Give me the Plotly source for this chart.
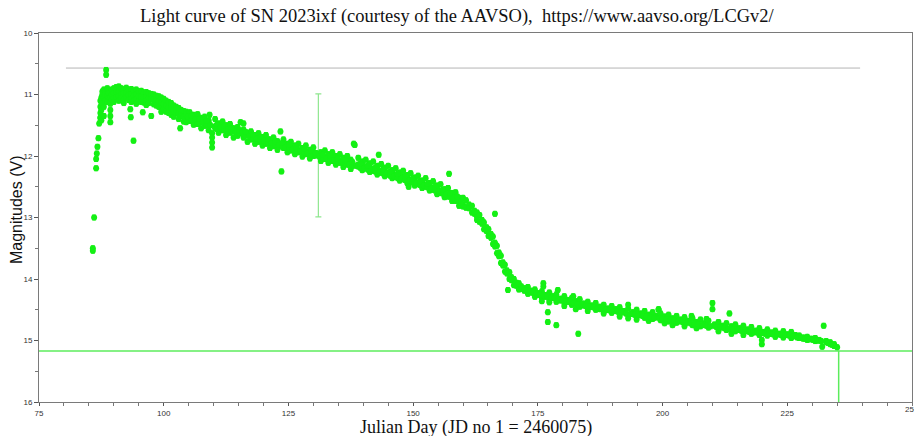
import plotly.graph_objects as go

# ---- V-band observations of SN 2023ixf (day = JD - 2460075 + 1) ----
rise_day = [85.79, 85.79, 86.05, 86.45, 86.45, 86.59, 86.71, 86.91, 87.06, 87.26,
            87.60, 87.92, 88.46, 88.46]
rise_mag = [13.50, 13.54, 13.00, 12.20, 12.05, 11.96, 11.85, 11.71, 11.47, 11.38,
            11.14, 10.98, 10.60, 10.68]

peak_day = [87.3, 87.3, 87.3, 87.5, 87.5, 87.5, 87.7, 87.7, 87.7,
            88.0, 88.0, 88.0, 88.0, 88.3, 88.3, 88.3,
            88.7, 88.7, 88.7, 89.0, 89.0, 89.0,
            89.3, 89.3, 89.3, 89.3, 89.3, 89.6, 89.6, 89.6,
            90.0, 90.0, 90.0, 90.0, 90.5, 90.5, 90.5,
            91.0, 91.0, 91.0, 91.0, 91.5, 91.5, 91.5,
            92.0, 92.0, 92.0, 92.0, 92.5, 92.5, 92.5,
            93.0, 93.0, 93.0, 93.3, 93.4, 93.95,
            93.5, 93.5, 93.5, 93.5, 94.0, 94.0, 94.0,
            94.5, 94.5, 94.5, 94.5, 95.0, 95.0, 95.0,
            95.5, 95.5, 95.5, 95.8, 96.0, 96.0, 96.0,
            96.5, 96.5, 96.5, 96.5, 97.0, 97.0, 97.0,
            97.5, 97.5, 97.5, 98.0, 98.0, 98.0,
            98.5, 98.5, 98.5, 99.0, 99.0, 99.0,
            99.5, 99.5, 99.5, 99.5, 100.0, 100.0, 100.0,
            100.5, 100.5, 100.5, 101.0, 101.0, 101.0,
            101.5, 101.5, 101.5, 102.0, 102.0, 102.0,
            102.5, 102.5, 103.0, 103.0, 103.0, 103.3,
            103.5, 103.5, 104.0, 104.0, 104.0]
peak_mag = [11.30, 11.20, 11.10, 11.42, 11.05, 11.25, 11.00, 11.15, 10.95,
            10.92, 11.05, 11.35, 11.20, 10.95, 11.10, 11.00,
            10.90, 11.02, 11.12, 10.93, 11.05, 10.98,
            11.15, 11.25, 11.35, 11.45, 11.05, 10.92, 11.00, 11.08,
            10.90, 10.98, 11.06, 11.12, 10.88, 10.96, 11.04,
            10.87, 10.95, 11.03, 11.10, 10.90, 10.99, 11.06,
            10.92, 10.98, 11.08, 11.14, 10.89, 10.97, 11.05,
            10.93, 11.01, 11.09, 11.24, 11.37, 11.75,
            10.91, 10.99, 11.07, 11.12, 10.94, 11.02, 11.10,
            10.92, 11.00, 11.08, 11.15, 10.95, 11.03, 11.11,
            10.94, 11.04, 11.12, 11.29, 10.97, 11.05, 11.13,
            10.96, 11.04, 11.10, 11.17, 10.98, 11.06, 11.14,
            11.35, 10.99, 11.07, 11.00, 11.08, 11.16,
            11.02, 11.10, 11.18, 11.03, 11.11, 11.20,
            11.05, 11.13, 11.22, 11.28, 11.07, 11.15, 11.24,
            11.10, 11.18, 11.28, 11.12, 11.21, 11.30,
            11.14, 11.22, 11.33, 11.18, 11.26, 11.36,
            11.20, 11.30, 11.22, 11.32, 11.40, 11.55,
            11.25, 11.35, 11.27, 11.36, 11.44]

plateau_day = [104.5, 104.5, 104.5, 105.2, 105.2, 105.2, 106.0, 106.0, 106.0,
               106.8, 106.8, 106.8, 107.5, 107.5, 107.5, 108.2, 108.2, 108.2,
               109.0, 109.0, 109.0, 109.2, 109.7, 109.7, 109.7, 109.7,
               110.3, 110.3, 110.3, 111.0, 111.0, 111.0, 111.8, 111.8, 111.8,
               112.5, 112.5, 112.5, 113.3, 113.3, 113.3, 114.0, 114.0, 114.0,
               114.8, 114.8, 114.8, 115.4, 116.0, 116.0, 116.0, 116.0,
               116.8, 116.8, 116.8, 117.5, 117.5, 117.5, 118.3, 118.3, 118.3,
               119.0, 119.0, 119.0, 119.8, 119.8, 119.8, 120.5, 120.5, 120.5,
               121.3, 121.3, 121.3, 122.0, 122.0, 122.0, 122.8, 122.8, 122.8,
               123.4, 123.6, 124.0, 124.0, 124.0, 124.8, 124.8, 124.8,
               125.5, 125.5, 125.5, 126.3, 126.3, 126.3, 127.0, 127.0, 127.0,
               127.8, 127.8, 127.8, 128.5, 128.5, 128.5, 129.3, 129.3, 129.3,
               130.0, 130.0, 130.0, 131.5, 131.5, 131.5, 132.3, 132.3, 132.3,
               133.0, 133.0, 133.0, 133.8, 133.8, 133.8, 134.5, 134.5, 134.5,
               135.3, 135.3, 135.3, 136.0, 136.0, 136.0, 136.8, 136.8, 136.8,
               137.5, 137.5, 137.5, 138.1, 138.3, 139.0, 139.0, 139.0,
               139.8, 139.8, 139.8, 140.5, 140.5, 140.5, 141.3, 141.3, 141.3,
               142.0, 142.0, 142.0, 142.8, 142.8, 142.8, 143.1,
               143.6, 143.6, 143.6, 144.3, 144.3, 144.3, 145.0, 145.0, 145.0,
               145.8, 145.8, 145.8, 146.5, 146.5, 146.5, 147.3, 147.3, 147.3,
               148.0, 148.0, 148.0, 148.8, 148.8, 148.8, 149.1,
               149.5, 149.5, 149.5, 150.3, 150.3, 150.3, 151.0, 151.0, 151.0,
               151.8, 151.8, 151.8, 152.5, 152.5, 152.5, 153.3, 153.3, 153.3,
               154.0, 154.0, 154.0, 154.8, 154.8, 154.8, 155.5, 155.5, 155.5,
               156.3, 156.3, 156.3, 157.0, 157.0, 157.0, 157.2,
               157.8, 157.8, 157.8, 158.5, 158.5, 158.5, 159.2, 159.2, 159.2,
               160.0, 160.0, 160.0]
plateau_mag = [11.28, 11.33, 11.45, 11.29, 11.39, 11.43, 11.33, 11.36, 11.49,
               11.32, 11.44, 11.48, 11.38, 11.42, 11.55, 11.36, 11.47, 11.51,
               11.42, 11.45, 11.58, 11.33, 11.63, 11.70, 11.78, 11.86,
               11.40, 11.52, 11.55, 11.47, 11.50, 11.62, 11.44, 11.55, 11.58,
               11.50, 11.54, 11.66, 11.48, 11.59, 11.62, 11.55, 11.57, 11.70,
               11.53, 11.64, 11.67, 11.45, 11.47, 11.57, 11.66, 11.70,
               11.62, 11.65, 11.77, 11.60, 11.70, 11.73, 11.66, 11.68, 11.80,
               11.63, 11.73, 11.77, 11.69, 11.71, 11.83, 11.66, 11.77, 11.80,
               11.73, 11.75, 11.87, 11.70, 11.81, 11.84, 11.76, 11.78, 11.90,
               11.60, 12.25, 11.73, 11.84, 11.87, 11.80, 11.82, 11.94,
               11.77, 11.87, 11.91, 11.83, 11.85, 11.97, 11.80, 11.91, 11.94,
               11.87, 11.88, 12.01, 11.83, 11.94, 11.97, 11.90, 11.92, 12.04,
               11.86, 11.97, 12.00, 11.94, 11.96, 12.08, 11.91, 12.02, 12.05,
               11.97, 11.99, 12.11, 11.94, 12.05, 12.08, 12.00, 12.02, 12.14,
               11.97, 12.08, 12.11, 12.03, 12.05, 12.18, 12.00, 12.11, 12.14,
               12.06, 12.08, 12.21, 11.80, 11.82, 12.03, 12.14, 12.17,
               12.09, 12.11, 12.23, 12.06, 12.17, 12.20, 12.12, 12.14, 12.26,
               12.09, 12.21, 12.24, 12.16, 12.18, 12.30, 11.98,
               12.13, 12.24, 12.27, 12.19, 12.21, 12.33, 12.16, 12.27, 12.30,
               12.23, 12.25, 12.36, 12.20, 12.31, 12.34, 12.27, 12.29, 12.40,
               12.24, 12.34, 12.38, 12.31, 12.33, 12.44, 12.50,
               12.28, 12.39, 12.42, 12.35, 12.37, 12.48, 12.32, 12.43, 12.46,
               12.40, 12.42, 12.52, 12.36, 12.47, 12.50, 12.44, 12.46, 12.56,
               12.41, 12.52, 12.55, 12.48, 12.50, 12.62, 12.46, 12.57, 12.60,
               12.54, 12.56, 12.67, 12.52, 12.63, 12.66, 12.29,
               12.60, 12.62, 12.73, 12.59, 12.70, 12.73, 12.68, 12.70, 12.81,
               12.68, 12.79, 12.82]

# additional plateau nights between the ones above
plateau_fill_day = [104.85, 105.6, 105.6, 106.4, 107.15, 107.15, 107.85, 108.6, 108.6,
                    109.35, 110.65, 110.65, 111.4, 112.15, 112.15, 112.9, 113.65, 113.65,
                    114.4, 115.1, 115.1, 115.7, 116.4, 116.4, 117.15, 117.9, 117.9,
                    118.65, 119.4, 119.4, 120.15, 120.9, 120.9, 121.65, 122.4, 122.4,
                    123.1, 123.8, 123.8, 124.4, 125.15, 125.15, 125.9, 126.65, 126.65,
                    127.4, 128.15, 128.15, 128.9, 129.65, 129.65, 130.5, 130.5, 131.2,
                    131.9, 131.9, 132.65, 133.4, 133.4, 134.15, 134.9, 134.9, 135.65,
                    136.4, 136.4, 137.15, 137.85, 137.85, 138.6, 139.4, 139.4, 140.15,
                    140.9, 140.9, 141.65, 142.4, 142.4, 143.2, 143.95, 143.95, 144.65,
                    145.4, 145.4, 146.15, 146.9, 146.9, 147.65, 148.4, 148.4, 149.15,
                    149.9, 149.9, 150.65, 151.4, 151.4, 152.15, 152.9, 152.9, 153.65,
                    154.4, 154.4, 155.15, 155.9, 155.9, 156.65, 157.4, 157.4, 158.15,
                    158.85, 158.85, 159.6]
plateau_fill_mag = [11.36, 11.41, 11.35, 11.40, 11.46, 11.40, 11.45, 11.49, 11.43,
                    11.50, 11.49, 11.56, 11.53, 11.58, 11.51, 11.56, 11.60, 11.55,
                    11.61, 11.63, 11.58, 11.63, 11.67, 11.61, 11.68, 11.72, 11.66,
                    11.72, 11.75, 11.69, 11.75, 11.79, 11.73, 11.79, 11.82, 11.76,
                    11.82, 11.85, 11.79, 11.86, 11.88, 11.82, 11.89, 11.91, 11.86,
                    11.92, 11.94, 11.88, 11.95, 11.98, 11.91, 11.99, 11.95, 12.01,
                    12.03, 11.98, 12.04, 12.06, 12.00, 12.07, 12.10, 12.04, 12.10,
                    12.13, 12.07, 12.14, 12.16, 12.10, 12.16, 12.19, 12.13, 12.20,
                    12.22, 12.16, 12.23, 12.25, 12.19, 12.27, 12.28, 12.22, 12.29,
                    12.32, 12.26, 12.33, 12.36, 12.29, 12.37, 12.39, 12.33, 12.40,
                    12.43, 12.37, 12.44, 12.47, 12.41, 12.48, 12.51, 12.45, 12.53,
                    12.56, 12.50, 12.57, 12.61, 12.55, 12.62, 12.66, 12.60, 12.68,
                    12.72, 12.66, 12.75]

drop_day = [160.6, 160.6, 161.2, 161.2, 161.8, 161.8, 162.3, 162.3,
            162.8, 162.8, 162.8, 163.3, 163.3, 163.8, 163.8, 164.2, 164.2,
            164.7, 164.7, 165.1, 165.1, 165.6, 165.6, 166.0, 166.0,
            166.4, 166.4, 166.4, 166.8, 166.8, 167.2, 167.2, 167.6, 167.6,
            168.0, 168.0, 168.4, 168.4, 168.8, 168.8, 169.0,
            169.3, 169.3, 169.7, 169.7, 170.2, 170.2, 170.7, 170.7,
            171.2, 171.2, 171.7, 171.7]
drop_mag = [12.72, 12.84, 12.79, 12.85, 12.81, 12.92, 12.89, 12.94,
            13.04, 12.92, 12.99, 12.96, 13.07, 13.04, 13.10, 13.08, 13.19,
            13.16, 13.22, 13.19, 13.30, 13.27, 13.33, 13.31, 13.43,
            12.94, 13.41, 13.47, 13.46, 13.58, 13.57, 13.63, 13.62, 13.74,
            13.73, 13.78, 13.77, 13.88, 13.86, 13.91, 14.18,
            13.89, 14.00, 13.97, 14.02, 14.00, 14.10, 14.06, 14.11,
            14.07, 14.17, 14.12, 14.16]

tail_day = [172.3, 172.3, 173.0, 173.0, 173.7, 173.7, 174.4, 174.4, 175.1, 175.1,
            175.8, 175.8, 175.8, 176.1, 176.1, 176.5, 176.5, 177.0, 177.0,
            177.3, 177.3, 177.3, 178.0, 178.0, 178.7, 178.7, 178.7, 179.0,
            179.5, 179.5, 180.3, 180.3, 180.3, 181.0, 181.0, 181.8, 181.8, 182.1,
            182.6, 182.6, 182.6, 183.1, 183.4, 183.4, 184.2, 184.2,
            185.0, 185.0, 185.0, 185.8, 185.8, 186.6, 186.6, 187.4, 187.4,
            188.2, 188.2, 188.2, 189.0, 189.0, 189.8, 189.8, 190.6, 190.6,
            191.4, 191.4, 191.4, 192.2, 192.2, 193.1, 193.1, 193.1, 193.1,
            194.0, 194.0, 194.8, 194.8, 194.8, 195.6, 195.6, 196.4, 196.4,
            197.2, 197.2, 197.2, 198.0, 198.0, 198.8, 198.8, 199.2, 199.2,
            199.6, 199.6, 200.4, 200.4, 200.4, 201.2, 201.2, 202.0, 202.0, 202.0,
            202.8, 202.8, 203.6, 203.6, 204.4, 204.4, 204.4, 205.2, 205.2, 205.8,
            206.0, 206.0, 206.8, 206.8, 206.8, 207.6, 207.6, 208.4, 208.4, 208.8,
            209.2, 209.2, 210.0, 210.0, 210.4, 210.4, 211.2, 211.2, 211.2,
            212.0, 212.0, 212.8, 212.8, 213.4, 213.8, 213.8, 213.8,
            214.6, 214.6, 215.4, 215.4, 216.2, 216.2, 216.2, 217.0, 217.0,
            217.8, 217.8, 218.6, 218.6, 219.4, 219.4, 219.9, 219.9,
            220.2, 220.2, 221.0, 221.0, 221.8, 221.8, 222.6, 222.6,
            223.4, 223.4, 224.2, 224.2, 225.0, 225.0, 225.8, 225.8,
            226.6, 226.6, 227.4, 227.4, 228.2, 228.2, 229.0, 229.0,
            229.8, 229.8, 230.6, 230.6, 231.4, 231.4, 232.0, 232.3,
            232.8, 232.8, 233.6, 233.6, 234.4, 234.4, 235.0]
tail_mag = [14.15, 14.19, 14.13, 14.24, 14.19, 14.22, 14.17, 14.29, 14.23, 14.26,
            14.20, 14.31, 14.36, 14.07, 14.12, 14.26, 14.29, 14.54, 14.70,
            14.22, 14.34, 14.38, 14.28, 14.31, 14.25, 14.37, 14.75, 14.18,
            14.32, 14.35, 14.28, 14.39, 14.44, 14.34, 14.37, 14.31, 14.42, 14.28,
            14.36, 14.40, 14.49, 14.89, 14.33, 14.45, 14.40, 14.43,
            14.37, 14.48, 14.52, 14.43, 14.45, 14.39, 14.50, 14.45, 14.49,
            14.42, 14.53, 14.56, 14.48, 14.50, 14.44, 14.55, 14.49, 14.52,
            14.46, 14.57, 14.61, 14.52, 14.54, 14.42, 14.48, 14.59, 14.64,
            14.54, 14.57, 14.50, 14.61, 14.66, 14.56, 14.58, 14.52, 14.63,
            14.58, 14.60, 14.68, 14.54, 14.65, 14.60, 14.62, 14.49, 14.50,
            14.56, 14.67, 14.61, 14.64, 14.72, 14.58, 14.69, 14.64, 14.66, 14.75,
            14.60, 14.71, 14.66, 14.68, 14.62, 14.73, 14.77, 14.68, 14.70, 14.60,
            14.64, 14.75, 14.70, 14.72, 14.80, 14.66, 14.77, 14.72, 14.74, 14.65,
            14.68, 14.79, 14.39, 14.49, 14.74, 14.76, 14.70, 14.81, 14.85,
            14.76, 14.78, 14.72, 14.83, 14.56, 14.77, 14.80, 14.89,
            14.74, 14.85, 14.80, 14.82, 14.76, 14.87, 14.91, 14.82, 14.84,
            14.78, 14.89, 14.84, 14.86, 14.80, 14.91, 14.99, 15.06,
            14.86, 14.88, 14.82, 14.92, 14.87, 14.89, 14.84, 14.94,
            14.89, 14.90, 14.85, 14.95, 14.90, 14.91, 14.86, 14.96,
            14.91, 14.93, 14.92, 14.96, 14.95, 14.97, 14.94, 14.99,
            14.97, 14.98, 14.96, 15.01, 14.99, 15.00, 15.10, 14.76,
            15.01, 15.03, 15.03, 15.06, 15.06, 15.09, 15.11]

# additional tail nights between the ones above
tail_fill_day = [172.65, 173.35, 174.05, 174.75, 175.45, 176.15, 176.9, 177.65, 178.35,
                 179.1, 179.9, 180.65, 181.4, 182.2, 183.0, 183.8, 184.6, 185.4,
                 186.2, 187.0, 187.8, 188.6, 189.4, 190.2, 191.0, 191.8, 192.65,
                 193.55, 194.4, 195.2, 196.0, 196.8, 197.6, 198.4, 199.4, 200.0,
                 200.8, 201.6, 202.4, 203.2, 204.0, 204.8, 205.6, 206.4, 207.2,
                 208.0, 208.8, 209.6, 210.8, 211.6, 212.4, 213.2, 214.2, 215.0,
                 215.8, 216.6, 217.4, 218.2, 219.0, 219.8, 220.6, 221.4, 222.2,
                 223.0, 223.8, 224.6, 225.4, 226.2, 227.0, 227.8, 228.6, 229.4,
                 230.2, 231.0, 231.8, 233.2, 234.0]
tail_fill_mag = [14.18, 14.20, 14.22, 14.24, 14.25, 14.27, 14.28, 14.30, 14.31,
                 14.33, 14.34, 14.36, 14.37, 14.39, 14.41, 14.42, 14.44, 14.45,
                 14.46, 14.47, 14.48, 14.50, 14.51, 14.52, 14.53, 14.54, 14.56,
                 14.57, 14.58, 14.59, 14.60, 14.61, 14.62, 14.63, 14.64, 14.65,
                 14.66, 14.67, 14.68, 14.69, 14.70, 14.71, 14.72, 14.73, 14.74,
                 14.75, 14.76, 14.77, 14.78, 14.79, 14.80, 14.81, 14.82, 14.83,
                 14.84, 14.85, 14.86, 14.87, 14.87, 14.88, 14.89, 14.89, 14.90,
                 14.90, 14.91, 14.91, 14.92, 14.93, 14.95, 14.96, 14.97, 14.98,
                 14.99, 15.00, 15.01, 15.04, 15.07]

# single observation with a very large uncertainty
wide_day = [131.0]
wide_mag = [11.99]
wide_err = [1.00]

# reference levels
upper_ref_mag = 10.57
upper_ref_days = [80.4, 239.6]
limit_mag = 15.17
limit_day = 235.3

x_ticks = [75, 100, 125, 150, 175, 200, 225, 250]
y_ticks = [10, 11, 12, 13, 14, 15, 16]

GREEN = "#14f014"

days = (rise_day + peak_day + plateau_day + plateau_fill_day + drop_day
        + tail_day + tail_fill_day)
mags = (rise_mag + peak_mag + plateau_mag + plateau_fill_mag + drop_mag
        + tail_mag + tail_fill_mag)

fig = go.Figure()

# reference bar near the top of the panel
fig.add_trace(go.Scatter(
    x=upper_ref_days, y=[upper_ref_mag, upper_ref_mag], mode="lines",
    line=dict(color="#b4b4b4", width=1), hoverinfo="skip", showlegend=False))

# horizontal limit line and the drop to the axis at the last epoch
fig.add_trace(go.Scatter(
    x=[75, 250], y=[limit_mag, limit_mag], mode="lines",
    line=dict(color="#5cec5c", width=1.5), hoverinfo="skip", showlegend=False))
fig.add_trace(go.Scatter(
    x=[limit_day, limit_day], y=[limit_mag, 16], mode="lines",
    line=dict(color="#5cec5c", width=1.5), hoverinfo="skip", showlegend=False))

# the large-error point
fig.add_trace(go.Scatter(
    x=wide_day, y=wide_mag, mode="markers",
    marker=dict(color=GREEN, size=5),
    error_y=dict(type="data", array=wide_err, color="#8fe68f", thickness=1.2, width=3),
    showlegend=False))

# all V observations
fig.add_trace(go.Scatter(
    x=days, y=mags, mode="markers",
    marker=dict(color=GREEN, size=6, line=dict(width=0)),
    error_y=dict(type="constant", value=0.04, color=GREEN, thickness=1, width=2),
    showlegend=False))

axis_common = dict(
    showgrid=False, zeroline=False, showline=True, linecolor="#7a7a7a", linewidth=1,
    mirror=True, ticks="outside", tickcolor="#555555",
    tickfont=dict(family="Liberation Sans", size=8, color="#333333"),
)

fig.update_xaxes(
    range=[75, 250], tickvals=x_ticks[:-1], ticktext=[str(v) for v in x_ticks[:-1]],
    ticklen=3,
    minor=dict(dtick=5, tick0=75, ticks="outside", ticklen=3, tickcolor="#777777"),
    **axis_common)
fig.update_yaxes(
    range=[16, 10], tickvals=y_ticks, ticktext=[str(v) for v in y_ticks],
    ticklen=4,
    minor=dict(dtick=0.5, tick0=10, ticks="outside", ticklen=3, tickcolor="#777777"),
    **axis_common)

fig.update_layout(
    width=914, height=436,
    margin=dict(l=39, r=2, t=33, b=34),
    paper_bgcolor="white", plot_bgcolor="white",
    annotations=[
        # last x tick label sits on the right edge of the page
        dict(text=str(x_ticks[-1]), xref="x", yref="paper", x=x_ticks[-1], y=-8 / 369,
             xanchor="center", yanchor="middle", showarrow=False,
             font=dict(family="Liberation Sans", size=8, color="#333333")),
        dict(text="Light curve of SN 2023ixf (courtesy of the AAVSO),  https://www.aavso.org/LCGv2/",
             xref="paper", yref="paper", x=(457 - 39) / 873, y=1 + 16 / 369,
             xanchor="center", yanchor="middle", showarrow=False,
             font=dict(family="Liberation Serif", size=18.5, color="#111111")),
        dict(text="Julian Day (JD no 1 = 2460075)",
             xref="paper", yref="paper", x=0.5, y=-25 / 369,
             xanchor="center", yanchor="middle", showarrow=False,
             font=dict(family="Liberation Serif", size=18, color="#111111")),
        dict(text="Magnitudes (V)", textangle=-90,
             xref="paper", yref="paper", x=(17 - 39) / 873, y=(402 - 210) / 369,
             xanchor="center", yanchor="middle", showarrow=False,
             font=dict(family="Liberation Sans", size=16, color="#111111")),
    ],
)

fig.write_html("out.html")
